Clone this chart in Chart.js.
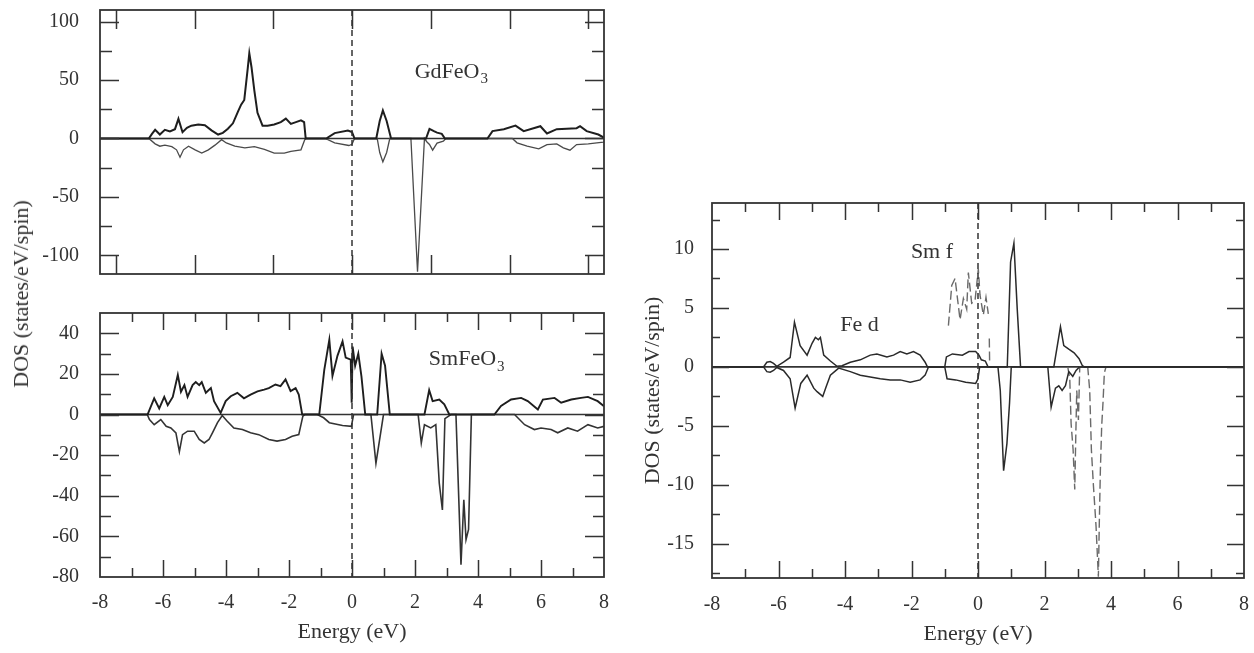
<!DOCTYPE html>
<html><head><meta charset="utf-8">
<script src="https://cdn.jsdelivr.net/npm/chart.js@4.4.0/dist/chart.umd.min.js"></script>
<style>
html,body{margin:0;padding:0;background:#fff;width:1254px;height:653px;overflow:hidden;}
canvas{position:absolute;}
#ytitle{position:absolute;left:21px;top:294px;transform:translate(-50%,-50%) rotate(-90deg);font:22px 'Liberation Serif',serif;color:#333;white-space:nowrap;}
</style></head><body>
<canvas id="c1" width="620" height="290" style="left:0;top:0"></canvas>
<canvas id="c2" width="620" height="353" style="left:0;top:300px"></canvas>
<canvas id="c3" width="624" height="463" style="left:630px;top:190px"></canvas>
<div id="ytitle">DOS (states/eV/spin)</div>
<script>
// ---------- GdFeO3 (top-left) ----------
const gdEnergyUp = [-8,-6.45,-6.35,-6.25,-6.1,-5.94,-5.78,-5.62,-5.51,-5.38,-5.24,-5.1,-4.88,-4.67,-4.46,-4.25,-4.1,-3.94,-3.78,-3.62,-3.52,-3.42,-3.31,-3.26,-3.19,-3.1,-3.0,-2.84,-2.68,-2.47,-2.26,-2.1,-1.94,-1.78,-1.62,-1.52,-1.47,-0.82,-0.55,-0.13,0.0,0.08,0.77,0.88,0.98,1.1,1.24,2.35,2.46,2.6,2.7,2.85,2.95,4.3,4.46,4.82,5.19,5.45,5.98,6.19,6.5,7.13,7.24,7.45,7.82,7.98,8];
const gdDosUp    = [0,0,4,7.4,3.4,7.4,6,8,16.8,5.4,9.1,11,12,11.4,7,3.4,4.8,8.3,13,23,29,33,60,73,61,41,22,11,11,12,14,17,12.5,14,15.5,14,0,0,4.6,6.8,5.5,0,0,15,24,15,0,0,8.3,6.3,5,4,0,0,6.3,8,11,6.3,10.5,4.3,8,8.8,10.5,6.3,3.4,1,0];
const gdEnergyDn = [-8,-6.45,-6.25,-6.1,-5.94,-5.72,-5.57,-5.46,-5.35,-5.19,-4.98,-4.77,-4.56,-4.35,-4.14,-3.99,-3.72,-3.4,-3.1,-2.78,-2.47,-2.15,-1.94,-1.62,-1.5,-1.45,-0.85,-0.55,-0.1,0.0,0.08,0.8,0.88,0.98,1.1,1.2,1.87,2.08,2.3,2.38,2.46,2.56,2.7,2.9,2.98,5.09,5.24,5.56,5.93,6.19,6.5,6.71,6.92,7.13,7.5,7.98,8];
const gdDosDn    = [0,0,-4.6,-6.6,-5.7,-7,-9.7,-16,-9.7,-6.6,-9.7,-12.5,-9.7,-5.7,-1,-3.8,-6.6,-8,-7,-9.4,-12.5,-12.5,-11,-9.7,-1,0,0,-3.7,-6,-5,0,0,-12,-20,-12,0,0,-114,0,-3,-5.1,-10,-4,-2.3,0,0,-3.7,-6.6,-8.9,-5.2,-4.6,-8,-10,-5.2,-4.6,-3.1,-3];

// ---------- SmFeO3 (bottom-left) ----------
const smEnergyUp = [-8,-6.49,-6.28,-6.12,-5.96,-5.85,-5.69,-5.53,-5.43,-5.32,-5.22,-5.06,-4.96,-4.85,-4.77,-4.64,-4.48,-4.38,-4.17,-4.01,-3.85,-3.64,-3.43,-3.22,-3.0,-2.79,-2.64,-2.43,-2.27,-2.11,-1.95,-1.79,-1.69,-1.58,-1.04,-0.88,-0.72,-0.62,-0.46,-0.3,-0.2,-0.04,-0.01,0.02,0.1,0.2,0.3,0.42,0.8,0.94,1.05,1.2,2.3,2.45,2.56,2.77,2.93,3.09,4.52,4.73,5.05,5.37,5.58,5.9,6.06,6.43,6.64,6.96,7.27,7.49,7.8,8.0];
const smDosUp    = [0,0,8,3,8.7,4.6,8.7,19.5,11.2,14.5,8.7,14.5,16,14.5,16,10.7,13,6.6,0.8,6.6,9,10.7,8,9.8,11.4,12.3,13,14.8,14,17.3,11.5,13,9.8,0,0,22,36.8,19,29,36,28,27,5.8,33.5,24,30,18.8,0,0,30,24,0,0,12,6.6,7.4,5,0,0,4.2,7.4,8.2,6.6,2.5,7.4,8.2,5.8,7.4,8.2,8.7,6.6,4.1];
const smEnergyDn = [-8,-6.5,-6.43,-6.28,-6.07,-5.9,-5.75,-5.59,-5.48,-5.38,-5.22,-5.01,-4.85,-4.69,-4.54,-4.43,-4.27,-4.12,-3.96,-3.75,-3.48,-3.22,-2.96,-2.64,-2.38,-2.11,-1.9,-1.69,-1.56,-1.5,-1.1,-0.9,-0.72,-0.3,-0.02,0.05,0.6,0.76,0.97,1.0,2.1,2.2,2.3,2.5,2.66,2.77,2.87,2.95,3.14,3.3,3.46,3.55,3.62,3.7,3.79,5.16,5.48,5.79,6.0,6.32,6.53,6.85,7.16,7.49,7.8,8.0];
const smDosDn    = [0,0,-2.5,-5,-2.5,-5.8,-6.6,-9,-18.3,-9.9,-8.2,-8.2,-12.3,-14,-12.3,-9,-4,-0.5,-3.3,-6.6,-7.4,-9,-9.9,-12.3,-13.1,-12.3,-10.7,-9.9,-0.8,0,0,-1.6,-4,-5.4,-5.8,0,0,-24,-3,0,0,-14,-5,-6.6,-5,-33.7,-47,-2,0,0,-74,-42,-61.6,-56.6,0,0,-5,-7.4,-6.6,-7.4,-9,-6.6,-8.2,-5,-6.6,-5.8];

// ---------- SmFeO3 partial DOS (right) ----------
const fedEnergyUp = [-8,-6.45,-6.35,-6.25,-6.15,-6.05,-5.85,-5.65,-5.52,-5.35,-5.14,-4.99,-4.89,-4.8,-4.74,-4.64,-4.44,-4.24,-4.09,-3.84,-3.54,-3.24,-3.04,-2.74,-2.54,-2.34,-2.14,-1.94,-1.74,-1.59,-1.52,-1.0,-0.95,-0.77,-0.47,-0.27,-0.07,0.03,0.1,0.22,0.27,0.3,0.88,0.98,1.08,1.18,1.28,2.28,2.48,2.58,2.73,2.89,3.04,3.14,3.2,8];
const fedDosUp    = [0,0,0.4,0.45,0.3,0.05,0.4,0.8,3.8,1.8,1.0,2.0,2.5,2.3,2.5,1.0,0.5,0.05,0.1,0.4,0.6,1.0,1.1,0.85,1.0,1.3,1.1,1.3,1.0,0.4,0,0,0.85,1.1,1.0,1.3,1.3,1.0,0.6,0.5,0.2,0,0,8.9,10.5,4.9,0,0,3.4,1.8,1.5,1.2,0.7,0.1,0,0];
const fedEnergyDn = [-8,-6.45,-6.35,-6.25,-6.15,-6.05,-5.85,-5.65,-5.5,-5.33,-5.14,-4.94,-4.84,-4.67,-4.57,-4.44,-4.19,-3.84,-3.54,-3.24,-2.94,-2.64,-2.34,-2.04,-1.74,-1.59,-1.49,-1.0,-0.93,-0.67,-0.37,-0.07,0.0,0.05,0.6,0.67,0.77,0.87,0.95,1.0,2.1,2.2,2.33,2.43,2.53,2.63,2.73,2.85,2.95,3.05,8];
const fedDosDn    = [0,0,-0.4,-0.45,-0.3,-0.05,-0.3,-1.0,-3.5,-1.4,-0.7,-1.8,-2.1,-2.5,-1.7,-0.7,-0.1,-0.4,-0.7,-0.85,-1.0,-1.1,-1.1,-1.3,-1.1,-0.7,0,0,-1.0,-1.1,-1.3,-1.4,-1.0,0,0,-2,-8.8,-6.5,-3,0,0,-3.4,-1.8,-1.6,-2.0,-1.6,-0.4,-0.8,-0.3,0,0];
const smfEnergy = [-0.89,-0.79,-0.69,-0.54,-0.44,-0.34,-0.29,-0.19,-0.09,0.01,0.06,0.16,0.24,0.31,null,0.34,0.35,null,2.7,2.76,2.8,2.86,2.91,2.94,2.97,3.02,3.06,3.3,3.36,3.41,3.47,3.55,3.62,3.65,3.68,3.72,3.76,3.8,3.85];
const smfDos    = [3.5,6.9,7.5,4.0,5.8,4.9,8.0,5.4,5.6,8.3,6.1,4.4,5.9,4.5,null,2.4,0.3,null,0,-1,-4.8,-7,-10.4,-6,-2,-4.5,0,0,-2,-7,-10,-13.5,-17.8,-13,-8.8,-5,-3,-0.5,0];

const FAM = "'Liberation Serif','Times New Roman',serif";
Chart.defaults.font.family = FAM;
Chart.defaults.color = '#333';

const pts = (xs, ys) => xs.map((x, i) => ({x: x, y: ys[i] === null ? null : ys[i]}));
const isMaj = (v, m) => Math.abs(v / m - Math.round(v / m)) < 1e-6;

const frameTicks = {
  id: 'frameTicks',
  beforeDatasetsDraw(chart, args, o) {
    const {ctx, chartArea: a, scales: {y}} = chart;
    const y0 = y.getPixelForValue(0);
    ctx.save(); ctx.strokeStyle = '#333'; ctx.lineWidth = 1.6;
    ctx.beginPath(); ctx.moveTo(a.left, y0); ctx.lineTo(a.right, y0); ctx.stroke();
    ctx.restore();
  },
  afterDatasetsDraw(chart, args, o) {
    const {ctx, chartArea: a, scales: {x, y}} = chart;
    ctx.save();
    ctx.strokeStyle = '#333'; ctx.lineWidth = 1.5;
    const x0 = x.getPixelForValue(0);
    ctx.setLineDash([6, 4]);
    ctx.beginPath(); ctx.moveTo(x0, a.top); ctx.lineTo(x0, a.bottom); ctx.stroke();
    ctx.setLineDash([]);
    ctx.lineWidth = 1.5;
    x.ticks.forEach(t => {
      const px = Math.round(x.getPixelForValue(t.value)) + 0.5;
      if (px < a.left + 2 || px > a.right - 2) return;
      const len = (o.xAllLong || isMaj(t.value, o.xMajor)) ? o.xLong : o.xShort;
      ctx.beginPath();
      ctx.moveTo(px, a.bottom); ctx.lineTo(px, a.bottom - len);
      ctx.moveTo(px, a.top); ctx.lineTo(px, a.top + len);
      ctx.stroke();
    });
    y.ticks.forEach(t => {
      const py = Math.round(y.getPixelForValue(t.value)) + 0.5;
      if (py < a.top + 2 || py > a.bottom - 2) return;
      const len = isMaj(t.value, o.yMajor) ? o.yLong : o.yShort;
      ctx.beginPath();
      ctx.moveTo(a.left, py); ctx.lineTo(a.left + len, py);
      ctx.moveTo(a.right, py); ctx.lineTo(a.right - len, py);
      ctx.stroke();
    });
    ctx.lineWidth = 1.8;
    ctx.strokeRect(a.left, a.top, a.right - a.left, a.bottom - a.top);
    ctx.restore();
  }
};

const notes = {
  id: 'notes',
  afterDraw(chart, args, o) {
    const {ctx, scales: {x, y}} = chart;
    (o.items || []).forEach(n => {
      ctx.save();
      ctx.fillStyle = '#333';
      ctx.font = '22px ' + FAM;
      ctx.textBaseline = 'middle';
      ctx.textAlign = n.align || 'left';
      const px = x.getPixelForValue(n.x), py = y.getPixelForValue(n.y);
      ctx.fillText(n.text, px, py);
      if (n.sub) {
        const w = ctx.measureText(n.text).width;
        ctx.font = '15px ' + FAM;
        ctx.textAlign = 'left';
        ctx.fillText(n.sub, px + w + 1, py + 7);
      }
      ctx.restore();
    });
  }
};

function line(data, color, width, dash) {
  return {data: data, showLine: true, borderColor: color, borderWidth: width, pointRadius: 0,
          borderDash: dash || [], tension: 0, spanGaps: false, fill: false};
}

function makeScales(o) {
  const noPad = s => { s.paddingTop = 0; s.paddingBottom = 0; s.paddingLeft = 0; s.paddingRight = 0; };
  return {
    x: {
      type: 'linear', min: -8, max: 8,
      ticks: {stepSize: o.xStep, includeBounds: false, autoSkip: false, maxRotation: 0, minRotation: 0,
              padding: o.xPad, color: '#333', font: {size: 20},
              callback: v => (o.xLabels && isMaj(v, 2)) ? String(v) : ''},
      grid: {display: false}, border: {display: false},
      title: o.xTitle ? {display: true, text: 'Energy (eV)', color: '#333', font: {size: 22},
                         padding: {top: 0, bottom: o.xTitlePad}} : {display: false},
      afterFit: s => { s.height = o.xH; noPad(s); }
    },
    y: {
      type: 'linear', min: o.yMin, max: o.yMax,
      ticks: {stepSize: o.yStep, includeBounds: false, autoSkip: false, padding: o.yPad, color: '#333',
              font: {size: 20}, callback: v => isMaj(v, o.yMajor) ? String(v) : ''},
      grid: {display: false}, border: {display: false},
      title: o.yTitle ? {display: true, text: 'DOS (states/eV/spin)', color: '#333', font: {size: 22},
                         padding: {top: o.yTitlePad, bottom: 0}} : {display: false},
      afterFit: s => { s.width = o.yW; noPad(s); }
    }
  };
}

function makeChart(id, datasets, sc, layoutPad, tickOpts, noteItems) {
  return new Chart(document.getElementById(id), {
    type: 'scatter',
    data: {datasets: datasets},
    options: {
      responsive: false, animation: false, devicePixelRatio: 1,
      layout: {padding: layoutPad},
      scales: sc,
      plugins: {legend: {display: false}, tooltip: {enabled: false}, frameTicks: tickOpts, notes: {items: noteItems}}
    },
    plugins: [frameTicks, notes]
  });
}

makeChart('c1',
  [line(pts(gdEnergyUp, gdDosUp), '#1e1e1e', 2.0), line(pts(gdEnergyDn, gdDosDn), '#4a4a4a', 1.3)],
  makeScales({xStep: 2.5, xLabels: false, xPad: 0, xH: 16, yMin: -116, yMax: 110, yStep: 25, yMajor: 50, yPad: 13, yW: 100}),
  {top: 10, right: 16, bottom: 0, left: 0},
  {xAllLong: true, xMajor: 2, xLong: 19, xShort: 19, yMajor: 50, yLong: 19, yShort: 12},
  [{text: 'GdFeO', sub: '3', x: 1.99, y: 57}]);

makeChart('c2',
  [line(pts(smEnergyUp, smDosUp), '#1e1e1e', 1.9), line(pts(smEnergyDn, smDosDn), '#333', 1.6)],
  makeScales({xStep: 1, xLabels: true, xPad: 6, xH: 76, xTitle: true, xTitlePad: 8, yMin: -80, yMax: 50, yStep: 10, yMajor: 20, yPad: 13, yW: 100}),
  {top: 13, right: 16, bottom: 0, left: 0},
  {xAllLong: false, xMajor: 2, xLong: 17, xShort: 9, yMajor: 20, yLong: 19, yShort: 11},
  [{text: 'SmFeO', sub: '3', x: 2.44, y: 27}]);

makeChart('c3',
  [line(pts(fedEnergyUp, fedDosUp), '#2a2a2a', 1.5), line(pts(fedEnergyDn, fedDosDn), '#2a2a2a', 1.5),
   line(pts(smfEnergy, smfDos), '#6a6a6a', 1.4, [9, 4])],
  makeScales({xStep: 1, xLabels: true, xPad: 7, xH: 75, xTitle: true, xTitlePad: 6, yMin: -17.9, yMax: 13.9, yStep: 2.5, yMajor: 5, yPad: 10, yW: 82, yTitle: true, yTitlePad: 10}),
  {top: 13, right: 10, bottom: 0, left: 0},
  {xAllLong: false, xMajor: 2, xLong: 17, xShort: 9, yMajor: 5, yLong: 17, yShort: 8},
  [{text: 'Fe d', x: -4.14, y: 3.5}, {text: 'Sm f', x: -0.75, y: 9.7, align: 'right'}]);
</script>
</body></html>
